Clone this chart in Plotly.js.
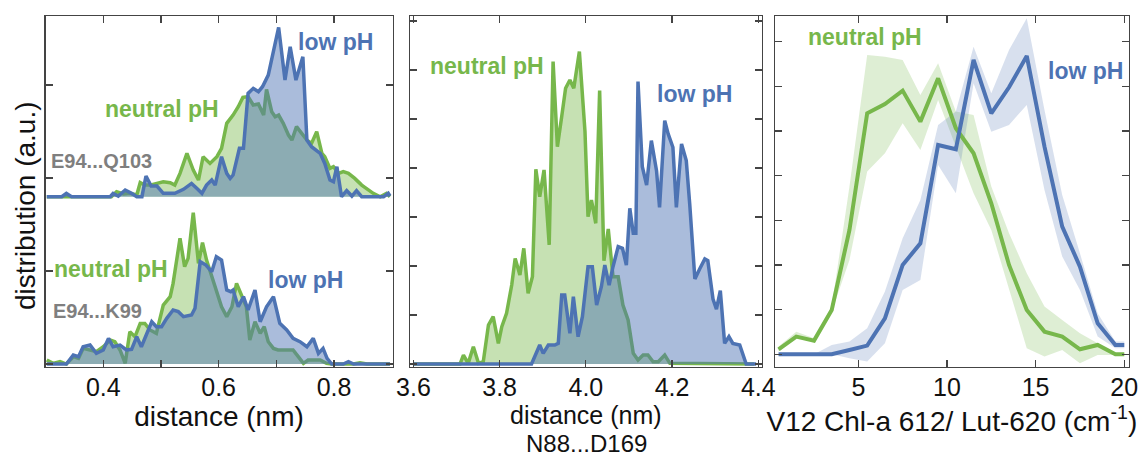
<!DOCTYPE html>
<html>
<head>
<meta charset="utf-8">
<script src="https://cdn.plot.ly/plotly-3.0.1.min.js"></script>
<style>html,body{margin:0;padding:0;background:#fff;}#chart{width:1142px;height:457px;}</style>
</head>
<body>
<div id="chart"></div>
<script>
// ---------- Panel 1 : E94...Q103 (top) ----------
const p1TopGreenX = [0.302,0.414,0.423,0.435,0.446,0.458,0.464,0.472,0.481,0.490,0.504,0.516,0.524,0.533,0.545,0.556,0.565,0.573,0.585,0.597,0.605,0.614,0.625,0.634,0.642,0.651,0.660,0.669,0.678,0.683,0.692,0.698,0.704,0.712,0.721,0.727,0.735,0.744,0.753,0.761,0.770,0.779,0.784,0.793,0.799,0.808,0.816,0.825,0.836,0.848,0.860,0.868,0.880,0.891,0.897];
const p1TopGreenY = [0,0,0.054,0.029,0.036,0.018,0.151,0.125,0.125,0.143,0.161,0.151,0.125,0.251,0.466,0.287,0.179,0.430,0.358,0.430,0.520,0.789,0.878,0.968,1.068,1.075,0.986,0.996,0.878,1.154,0.914,0.860,0.878,0.789,0.663,0.609,0.753,0.681,0.609,0.573,0.699,0.466,0.430,0.305,0.323,0.251,0.269,0.251,0.197,0.125,0.072,0.036,0,0.036,0];
const p1TopBlueX = [0.302,0.328,0.336,0.345,0.412,0.417,0.426,0.438,0.449,0.458,0.467,0.474,0.483,0.493,0.504,0.524,0.539,0.553,0.562,0.571,0.579,0.588,0.594,0.605,0.614,0.620,0.625,0.636,0.643,0.651,0.660,0.669,0.676,0.686,0.704,0.715,0.724,0.734,0.746,0.753,0.761,0.776,0.784,0.793,0.799,0.805,0.813,0.822,0.831,0.839,0.848,0.886,0.894,0.897];
const p1TopBlueY = [0,0,0.036,0,0,0.036,0.007,0.072,0.036,0,0,0.222,0.115,0.115,0.036,0.036,0.079,0.143,0.090,0.036,0.125,0.179,0.125,0.430,0.251,0.197,0.233,0.520,0.520,1.111,1.165,1.129,1.183,1.308,1.821,1.254,1.613,1.254,1.505,0.609,0.538,0.466,0.358,0.179,0.161,0.323,0,0.065,0.007,0.065,0,0,0.036,0.007];

// ---------- Panel 1 : E94...K99 (bottom) ----------
const p1BotGreenX = [0.302,0.313,0.325,0.336,0.348,0.357,0.365,0.377,0.388,0.400,0.412,0.420,0.429,0.438,0.446,0.455,0.464,0.472,0.481,0.492,0.504,0.516,0.521,0.533,0.541,0.547,0.556,0.565,0.572,0.579,0.588,0.596,0.605,0.614,0.623,0.631,0.640,0.648,0.654,0.663,0.672,0.679,0.686,0.695,0.703,0.712,0.729,0.738,0.747,0.755,0.776,0.787,0.796,0.834,0.845,0.857,0.897];
const p1BotGreenY = [0.043,0.007,0.025,0,0.079,0.061,0.168,0.151,0.133,0.186,0.258,0.240,0.151,0.007,0.348,0.294,0.437,0.437,0.366,0.330,0.634,0.724,0.867,1.351,1.047,1.136,1.627,1.082,1.305,1.118,0.939,0.796,0.616,0.509,0.616,0.867,0.724,0.616,0.258,0.455,0.330,0.401,0.240,0.168,0.151,0.151,0.151,0.079,0.007,0.043,0.043,0.007,0,0,0.014,0,0];
const p1BotBlueX = [0.302,0.336,0.348,0.357,0.365,0.377,0.388,0.400,0.409,0.417,0.429,0.440,0.449,0.458,0.466,0.475,0.484,0.492,0.501,0.510,0.521,0.530,0.539,0.553,0.559,0.568,0.578,0.588,0.596,0.605,0.614,0.621,0.625,0.634,0.643,0.651,0.663,0.672,0.683,0.695,0.706,0.718,0.729,0.741,0.753,0.764,0.773,0.781,0.788,0.796,0.816,0.825,0.834,0.897];
const p1BotBlueY = [0,0,0.097,0.079,0.186,0.204,0.115,0.151,0.276,0.186,0.204,0.151,0.158,0.294,0.186,0.330,0.455,0.401,0.401,0.491,0.581,0.563,0.509,0.527,0.599,1.100,1.064,0.993,1.154,1.118,0.796,0.778,0.796,0.616,0.724,0.581,0.796,0.455,0.616,0.724,0.437,0.366,0.276,0.240,0.186,0.276,0.115,0.168,0.061,0,0,0.025,0,0];

// ---------- Panel 2 : N88...D169 ----------
const p2GreenX = [3.600,3.708,3.716,3.727,3.739,3.751,3.762,3.774,3.785,3.797,3.805,3.816,3.828,3.836,3.847,3.856,3.866,3.876,3.884,3.893,3.903,3.915,3.924,3.934,3.944,3.953,3.963,3.972,3.985,3.998,4.005,4.013,4.023,4.032,4.042,4.052,4.063,4.075,4.086,4.098,4.110,4.121,4.133,4.144,4.156,4.168,4.183,4.195,4.390];
const p2GreenY = [0,0,0.184,0.014,0.354,0.014,0.048,0.796,0.966,0.422,0.762,1.034,1.612,2.156,1.816,2.361,1.442,1.782,3.973,3.415,3.959,2.429,6.170,4.435,5.048,5.626,5.796,5.626,6.374,4.741,3.007,3.347,2.871,5.578,2.109,2.755,1.782,1.782,1.204,0.898,0.218,0.082,0.184,0.184,0.048,0.048,0.184,0.014,0];
const p2BlueX = [3.600,3.874,3.893,3.901,3.913,3.928,3.936,3.944,3.951,3.963,3.971,3.982,3.992,4.005,4.015,4.025,4.036,4.044,4.054,4.063,4.075,4.085,4.094,4.102,4.110,4.116,4.121,4.131,4.141,4.152,4.164,4.171,4.183,4.191,4.202,4.210,4.222,4.233,4.241,4.253,4.264,4.276,4.283,4.295,4.303,4.312,4.322,4.332,4.341,4.357,4.372,4.395];
const p2BlueY = [0,0,0.388,0.218,0.388,0.388,0.422,1.408,1.408,0.626,1.374,0.558,0.966,1.986,1.986,1.204,1.578,2.020,1.612,1.986,2.395,2.361,2.020,3.177,2.667,2.667,5.762,4.027,3.653,4.558,3.946,3.197,4.966,4.694,4.422,3.197,4.490,4.150,3.265,1.735,1.939,2.143,2.109,1.327,1.122,1.497,0.422,0.558,0.422,0.388,0,0];

// ---------- Panel 3 : V12 Chl-a 612 / Lut-620 ----------
const p3X = [0.5,1.5,2.5,3.5,4.5,5.5,6.5,7.5,8.5,9.5,10.5,11.5,12.5,13.5,14.5,15.5,16.5,17.5,18.5,19.5,20];
const p3Green      = [0.112,0.396,0.306,0.993,2.784,5.396,5.604,5.903,5.209,6.179,5.060,4.500,3.381,2.000,0.993,0.507,0.396,0.112,0.209,0,0];
const p3GreenUpper = [0.172,0.507,0.358,1.067,3.754,6.701,6.664,6.590,5.806,6.515,5.433,5.358,3.754,2.709,1.813,1.067,0.769,0.470,0.246,0.022,0.022];
const p3GreenLower = [0.060,0.358,0.284,0.955,2.112,4.090,4.500,5.172,4.575,5.694,4.649,3.604,2.784,1.440,0.134,-0.052,0.097,-0.201,-0.015,-0.015,-0.015];
const p3Blue       = [0,0,0,0,0.097,0.194,0.806,2.000,2.485,4.687,4.590,6.590,5.396,5.978,6.679,4.649,2.858,1.963,0.694,0.209,0.209];
const p3BlueUpper  = [0,0,0,0.209,0.284,0.582,1.403,2.597,3.455,5.134,5.433,6.888,5.843,6.813,7.522,5.470,3.567,2.261,0.918,0.284,0.284];
const p3BlueLower  = [0,0,0,0,-0.090,-0.164,0.246,1.440,1.664,4.239,3.604,6.067,4.985,5.134,5.582,3.679,2.187,1.440,0.396,0.134,0.134];

// ---------- tick labels ----------
const p1TickVals = [0.4,0.6,0.8];
const p1TickText = ['0.4','0.6','0.8'];
const p2TickVals = [3.6,3.8,4.0,4.2,4.4];
const p2TickText = ['3.6','3.8','4.0','4.2','4.4'];
const p3TickVals = [5,10,15,20];
const p3TickText = ['5','10','15','20'];

// ---------- styling ----------
const W = 1142, H = 457;
const fx = p => p / W;
const fy = p => 1 - p / H;
const GREEN = '#77b74b', BLUE = '#4d73b3';
const GREEN_FILL = 'rgba(119,183,75,0.42)', BLUE_FILL = 'rgba(77,115,179,0.48)';
const GREEN_BAND = 'rgba(119,183,75,0.24)', BLUE_BAND = 'rgba(77,115,179,0.22)';
const FONT = 'Liberation Sans, Arial, Helvetica, sans-serif';
const FRAME = '#444';

function dist(x, y, color, fill, xa, ya) {
  return {x: x, y: y, type: 'scatter', mode: 'lines', xaxis: xa, yaxis: ya,
          line: {color: color, width: 3.5}, fill: 'tozeroy', fillcolor: fill,
          hoverinfo: 'skip', showlegend: false};
}
function band(lo, hi, fill, xa, ya) {
  return [
    {x: p3X, y: lo, type: 'scatter', mode: 'lines', xaxis: xa, yaxis: ya, line: {width: 0, color: fill}, showlegend: false, hoverinfo: 'skip'},
    {x: p3X, y: hi, type: 'scatter', mode: 'lines', xaxis: xa, yaxis: ya, line: {width: 0, color: fill}, fill: 'tonexty', fillcolor: fill, showlegend: false, hoverinfo: 'skip'}
  ];
}

const traces = [
  dist(p1TopGreenX, p1TopGreenY, GREEN, GREEN_FILL, 'x', 'y2'),
  dist(p1TopBlueX, p1TopBlueY, BLUE, BLUE_FILL, 'x', 'y2'),
  dist(p1BotGreenX, p1BotGreenY, GREEN, GREEN_FILL, 'x', 'y'),
  dist(p1BotBlueX, p1BotBlueY, BLUE, BLUE_FILL, 'x', 'y'),
  dist(p2GreenX, p2GreenY, GREEN, GREEN_FILL, 'x2', 'y3'),
  dist(p2BlueX, p2BlueY, BLUE, BLUE_FILL, 'x2', 'y3'),
  ...band(p3GreenLower, p3GreenUpper, GREEN_BAND, 'x3', 'y4'),
  ...band(p3BlueLower, p3BlueUpper, BLUE_BAND, 'x3', 'y4'),
  {x: p3X, y: p3Green, type: 'scatter', mode: 'lines', xaxis: 'x3', yaxis: 'y4', line: {color: GREEN, width: 4}, showlegend: false},
  {x: p3X, y: p3Blue, type: 'scatter', mode: 'lines', xaxis: 'x3', yaxis: 'y4', line: {color: BLUE, width: 4}, showlegend: false}
];

const axBase = {showline: true, linecolor: FRAME, linewidth: 1.3, mirror: 'allticks',
  ticks: 'inside', ticklen: 7, tickwidth: 1.3, tickcolor: FRAME, showgrid: false, zeroline: false,
  tickfont: {family: FONT, size: 25, color: '#111'}, fixedrange: true};
const xBase = Object.assign({}, axBase, {ticklabelstandoff: -2});
const minorTicks = (t0, dt) => ({tick0: t0, dtick: dt, ticks: 'inside', ticklen: 7, tickwidth: 1.3, tickcolor: FRAME, showgrid: false});
const yDom = [fy(367), fy(16)];
const titleFont = {family: FONT, size: 28, color: '#111'};

function label(text, x, y, size, color, angle) {
  return {text: text, x: fx(x), y: fy(y), xref: 'paper', yref: 'paper', xanchor: 'center', yanchor: 'middle',
          showarrow: false, textangle: angle || 0, font: {family: FONT, size: size, color: color}};
}

const layout = {
  width: W, height: H, margin: {l: 0, r: 0, t: 0, b: 0, pad: 0},
  paper_bgcolor: '#fff', plot_bgcolor: '#fff', showlegend: false,
  font: {family: FONT},
  xaxis: Object.assign({}, xBase, {domain: [fx(45.5), fx(392.5)], anchor: 'y', range: [0.2998, 0.9014],
    tickmode: 'array', tickvals: p1TickVals, ticktext: p1TickText, minor: minorTicks(0.3, 0.1),
    title: {text: 'distance (nm)', font: titleFont, standoff: 0}}),
  yaxis: Object.assign({}, axBase, {domain: yDom, anchor: 'x', range: [-0.032, 3.742], tick0: 0, dtick: 1, showticklabels: false}),
  yaxis2: {overlaying: 'y', anchor: 'x', range: [-1.831, 1.943], visible: false, fixedrange: true},
  xaxis2: Object.assign({}, xBase, {domain: [fx(410), fx(761.7)], anchor: 'y3', range: [3.592, 4.408],
    tickmode: 'array', tickvals: p2TickVals, ticktext: p2TickText,
    title: {text: 'distance (nm)', font: {family: FONT, size: 25, color: '#111'}, standoff: 0}}),
  yaxis3: Object.assign({}, axBase, {domain: yDom, anchor: 'x2', range: [-0.06, 7.1], tick0: 0, dtick: 1, showticklabels: false}),
  xaxis3: Object.assign({}, xBase, {domain: [fx(775), fx(1128.7)], anchor: 'y4', range: [0.3, 20.25],
    tickmode: 'array', tickvals: p3TickVals, ticktext: p3TickText,
    title: {text: 'V12 Chl-a 612/ Lut-620 (cm<sup>-1</sup>)', font: titleFont, standoff: 0}}),
  yaxis4: Object.assign({}, axBase, {domain: yDom, anchor: 'x3', range: [-0.285, 7.574], tick0: 0, dtick: 1, showticklabels: false}),
  annotations: [
    label('distribution (a.u.)', 25, 206, 28, '#111', -90),
    label('N88...D169', 586, 443, 24, '#111'),
    label('<b>low pH</b>', 335, 42, 23, BLUE),
    label('<b>neutral pH</b>', 162, 109, 23, GREEN),
    label('<b>E94...Q103</b>', 102, 161, 20, '#7f7f7f'),
    label('<b>neutral pH</b>', 111, 269, 23, GREEN),
    label('<b>low pH</b>', 305, 280, 23, BLUE),
    label('<b>E94...K99</b>', 97, 311, 20, '#7f7f7f'),
    label('<b>neutral pH</b>', 487, 66, 23, GREEN),
    label('<b>low pH</b>', 694, 94, 23, BLUE),
    label('<b>neutral pH</b>', 865, 37, 23, GREEN),
    label('<b>low pH</b>', 1085, 71, 23, BLUE)
  ]
};

Plotly.newPlot('chart', traces, layout, {staticPlot: true, displayModeBar: false});
</script>
</body>
</html>
